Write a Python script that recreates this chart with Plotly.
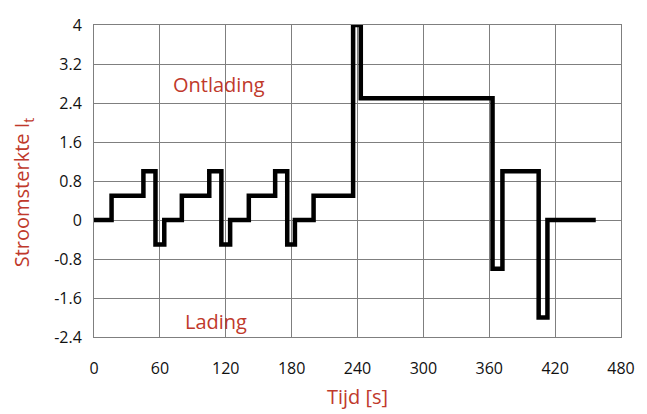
import plotly.graph_objects as go

# step change times [s] and current values (value holds from time until next time)
times = [0, 16, 45, 56, 64, 80, 105, 116, 124, 141, 165, 176, 183, 200, 236, 243, 363, 372, 405, 413, 457]
values = [0, 0.5, 1.0, -0.5, 0, 0.5, 1.0, -0.5, 0, 0.5, 1.0, -0.5, 0, 0.5, 4.0, 2.5, -1.0, 1.0, -2.0, 0, 0]

x_ticks = [0, 60, 120, 180, 240, 300, 360, 420, 480]
y_ticks = [-2.4, -1.6, -0.8, 0, 0.8, 1.6, 2.4, 3.2, 4]
y_tick_labels = ["-2.4", "-1.6", "-0.8", "0", "0.8", "1.6", "2.4", "3.2", "4"]

RED = "#c0392b"
GRID = "#7f7f7f"
FONT = "Open Sans"

fig = go.Figure()
fig.add_trace(go.Scatter(x=times, y=values, mode="lines", line=dict(shape="hv", color="black", width=4.5),
                         showlegend=False, hoverinfo="skip"))

fig.update_layout(
    width=647, height=414,
    margin=dict(l=94, r=16, t=25, b=77),
    plot_bgcolor="white", paper_bgcolor="white",
    font=dict(family=FONT, size=16, color="#111111"),
    xaxis=dict(range=[0, 480], tickvals=x_ticks, ticktext=[str(v) for v in x_ticks],
               showgrid=True, gridcolor=GRID, gridwidth=1, zeroline=False,
               showline=True, linecolor=GRID, linewidth=1, mirror=True,
               ticks="", ticklabelstandoff=17),
    yaxis=dict(range=[-2.4, 4], tickvals=y_ticks, ticktext=y_tick_labels,
               showgrid=True, gridcolor=GRID, gridwidth=1, zeroline=False,
               showline=True, linecolor=GRID, linewidth=1, mirror=True,
               ticks="", ticklabelstandoff=8),
    annotations=[
        dict(text="Ontlading", x=114, y=2.77, xref="x", yref="y", showarrow=False,
             font=dict(family=FONT, size=20, color=RED)),
        dict(text="Lading", x=111, y=-2.09, xref="x", yref="y", showarrow=False,
             font=dict(family=FONT, size=20, color=RED)),
        dict(text="Tijd [s]", x=0.5, y=-0.19, xref="paper", yref="paper", showarrow=False,
             yanchor="middle", font=dict(family=FONT, size=20, color=RED)),
        dict(text="Stroomsterkte I<sub>t</sub>", x=-(94 - 22) / 537, y=0.465, xref="paper", yref="paper",
             showarrow=False, textangle=-90, xanchor="center", yanchor="middle",
             font=dict(family=FONT, size=20, color=RED)),
    ],
)

fig.write_html("out.html")
